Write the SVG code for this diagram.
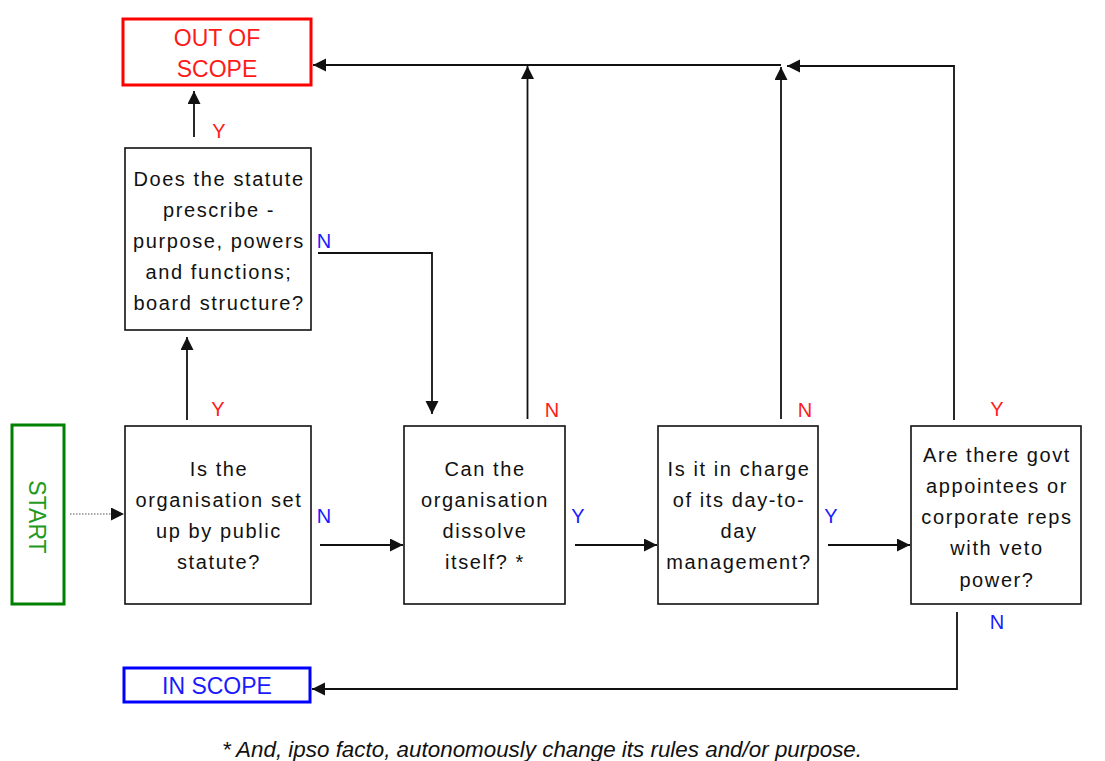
<svg xmlns="http://www.w3.org/2000/svg" width="1105" height="761" viewBox="0 0 1105 761">
<style>
.box{fill:#fff;stroke:#111;stroke-width:1.6}
.t{font-family:"Liberation Sans",Arial,sans-serif;font-size:20px;letter-spacing:1.6px;fill:#111;text-anchor:middle}
.big{font-family:"Liberation Sans",Arial,sans-serif;font-size:23px;text-anchor:middle}
.lbl{font-family:"Liberation Sans",Arial,sans-serif;font-size:20px;text-anchor:middle}
.r{fill:#ff1a1a}
.b{fill:#1a1aff}
.c{fill:none;stroke:#111;stroke-width:1.8}
</style>
<defs>
<marker id="ah" markerUnits="userSpaceOnUse" markerWidth="14" markerHeight="14" refX="13" refY="6.5" orient="auto">
<path d="M0,0 L13,6.5 L0,13 z" fill="#111"/>
</marker>
</defs>
<rect width="1105" height="761" fill="#fff"/>

<g id="connectors">
<line x1="70" y1="514" x2="124" y2="514" stroke="#555" stroke-width="1" stroke-dasharray="1.5,1.5" marker-end="url(#ah)"/>
<path class="c" d="M187,420 V337" marker-end="url(#ah)"/>
<path class="c" d="M194,137 V91" marker-end="url(#ah)"/>
<path class="c" d="M318,253 H432 V414" marker-end="url(#ah)"/>
<path class="c" d="M320,545 H403" marker-end="url(#ah)"/>
<path class="c" d="M575,545 H657" marker-end="url(#ah)"/>
<path class="c" d="M828,545 H910" marker-end="url(#ah)"/>
<path class="c" d="M527.5,419 V66" marker-end="url(#ah)"/>
<path class="c" d="M781,419 V67" marker-end="url(#ah)"/>
<path class="c" d="M781,65 H313" marker-end="url(#ah)"/>
<path class="c" d="M954,420 V66 H787" marker-end="url(#ah)"/>
<path class="c" d="M957,612 V689 H312" marker-end="url(#ah)"/>
</g>

<g id="labels">
<text class="lbl r" x="219" y="138">Y</text>
<text class="lbl b" x="324" y="248">N</text>
<text class="lbl r" x="218" y="416">Y</text>
<text class="lbl b" x="324" y="523">N</text>
<text class="lbl r" x="552" y="417">N</text>
<text class="lbl b" x="578" y="523">Y</text>
<text class="lbl r" x="805" y="417">N</text>
<text class="lbl b" x="831" y="523">Y</text>
<text class="lbl r" x="997" y="416">Y</text>
<text class="lbl b" x="997" y="629">N</text>
</g>

<g id="out-of-scope">
<rect x="123" y="19" width="188" height="66" fill="#fff" stroke="#ff0000" stroke-width="3"/>
<text class="big r" x="217" y="46">OUT OF</text>
<text class="big r" x="217" y="77">SCOPE</text>
</g>

<g id="statute-prescribe">
<rect class="box" x="125" y="148" width="186" height="182"/>
<text class="t" x="219" y="186">Does the statute</text>
<text class="t" x="219" y="217">prescribe -</text>
<text class="t" x="219" y="248">purpose, powers</text>
<text class="t" x="219" y="279">and functions;</text>
<text class="t" x="219" y="310">board structure?</text>
</g>

<g id="start">
<rect x="12" y="425" width="52" height="179" fill="#fff" stroke="#008000" stroke-width="3"/>
<text class="big" fill="#1f9a1f" transform="translate(37.7,517) rotate(90)" x="0" y="8.2">START</text>
</g>

<g id="set-up-by-statute">
<rect class="box" x="125" y="426" width="186" height="178"/>
<text class="t" x="219" y="476">Is the</text>
<text class="t" x="219" y="507">organisation set</text>
<text class="t" x="219" y="538">up by public</text>
<text class="t" x="219" y="569">statute?</text>
</g>

<g id="dissolve">
<rect class="box" x="404" y="426" width="161" height="178"/>
<text class="t" x="485" y="476">Can the</text>
<text class="t" x="485" y="507">organisation</text>
<text class="t" x="485" y="538">dissolve</text>
<text class="t" x="485" y="569">itself? *</text>
</g>

<g id="day-to-day">
<rect class="box" x="658" y="426" width="160" height="178"/>
<text class="t" x="739" y="476">Is it in charge</text>
<text class="t" x="739" y="507">of its day-to-</text>
<text class="t" x="739" y="538">day</text>
<text class="t" x="739" y="569">management?</text>
</g>

<g id="veto">
<rect class="box" x="911" y="426" width="170" height="178"/>
<text class="t" x="997" y="462">Are there govt</text>
<text class="t" x="997" y="493">appointees or</text>
<text class="t" x="997" y="524">corporate reps</text>
<text class="t" x="997" y="555">with veto</text>
<text class="t" x="997" y="587">power?</text>
</g>

<g id="in-scope">
<rect x="124" y="668" width="186" height="34" fill="#fff" stroke="#0000ff" stroke-width="3"/>
<text class="big b" x="217" y="694">IN SCOPE</text>
</g>

<text x="542" y="757" font-family="'Liberation Sans',Arial,sans-serif" font-size="22" font-style="italic" fill="#111" text-anchor="middle" textLength="640" lengthAdjust="spacingAndGlyphs">* And, ipso facto, autonomously change its rules and/or purpose.</text>
</svg>
